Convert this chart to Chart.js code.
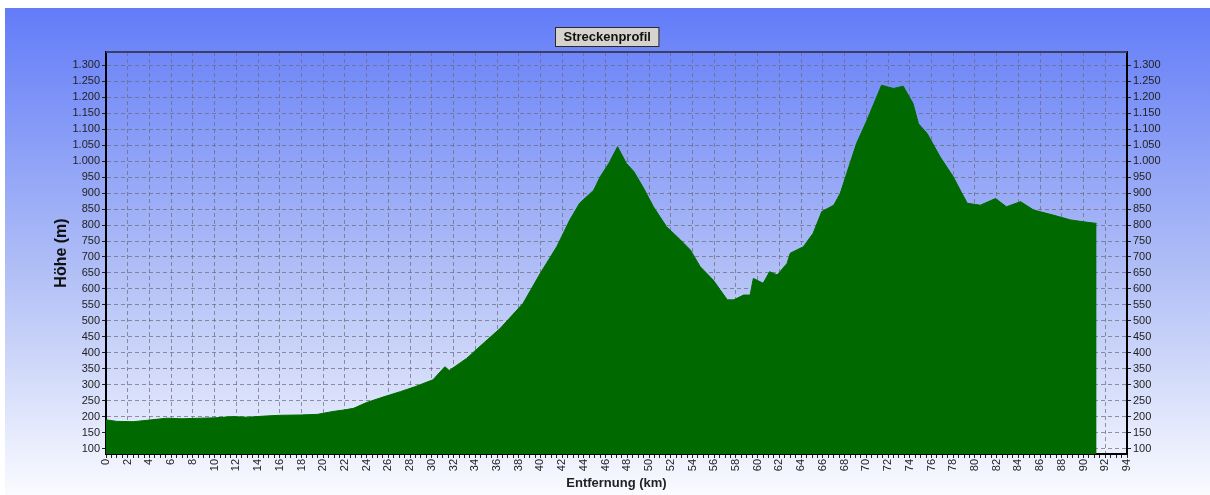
<!DOCTYPE html>
<html>
<head>
<meta charset="utf-8">
<script src="https://cdn.jsdelivr.net/npm/chart.js@4.4.1/dist/chart.umd.min.js"></script>
<style>
  html, body { margin: 0; padding: 0; background: #fff; }
  #wrap { position: relative; width: 1210px; height: 495px; }
</style>
</head>
<body>
<div id="wrap"><canvas id="profile" width="1210" height="495"></canvas></div>
<script>
// distance (km) and elevation (m)
const distanceKm = [
  0, 1, 2.5, 4, 5.6, 7, 8.7, 10, 11.7, 13, 14.8, 16, 17.9, 19.5, 20.9, 22, 22.8,
  24, 25.5, 27.1, 28.5, 30.1, 31.2, 31.6, 33.2, 35.1, 36.3, 38.4, 40.0, 41.5,
  42.7, 43.6, 44.9, 45.5, 46.3, 47.1, 47.9, 48.6, 49.5, 50.4, 51.6, 52.9, 53.8,
  54.7, 55.9, 57.2, 57.8, 58.7, 59.3, 59.6, 60.5, 61.1, 61.8, 62.7, 63.0, 64.2,
  65.1, 65.9, 67.0, 67.6, 68.2, 69.1, 70.0, 70.7, 71.4, 72.5, 73.4, 74.3, 74.8,
  75.6, 76.8, 78.0, 78.8, 79.3, 80.5, 81.9, 82.9, 84.2, 85.4, 87.2, 88.8, 90.0, 91.2
]
const elevationM = [
  191, 186, 185, 190, 196, 194, 196, 197, 201, 199, 203, 205, 206, 208, 217, 222, 227,
  245, 262, 279, 295, 316, 357, 345, 383, 441, 477, 555, 650, 732,
  816, 868, 909, 951, 993, 1045, 993, 967, 915, 857, 795, 753, 722,
  670, 628, 566, 566, 581, 581, 633, 618, 654, 644, 680, 712, 732,
  774, 842, 862, 899, 962, 1055, 1123, 1180, 1237, 1227, 1234, 1180, 1117,
  1086, 1013, 951, 899, 868, 862, 883, 857, 873, 847, 831, 816, 810, 805
]
const xTickLabels = [0, 2, 4, 6, 8, 10, 12, 14, 16, 18, 20, 22, 24, 26, 28, 30, 32, 34, 36, 38, 40,
  42, 44, 46, 48, 50, 52, 54, 56, 58, 60, 62, 64, 66, 68, 70, 72, 74, 76, 78, 80, 82, 84,
  86, 88, 90, 92, 94]
const yTickLabels = [100, 150, 200, 250, 300, 350, 400, 450, 500, 550, 600, 650, 700, 750,
  800, 850, 900, 950, 1000, 1050, 1100, 1150, 1200, 1250, 1300]

const chartTitle = 'Streckenprofil'
const yTitle = 'Höhe (m)'
const xTitle = 'Entfernung (km)'

const FONT = '"Liberation Sans", Arial, sans-serif'
const GRID = 'rgba(105,105,120,0.7)'

// German number format: 1300 -> "1.300"
const fmtHeight = v => {
  if (v >= 1000) return Math.floor(v / 1000) + '.' + String(v % 1000).padStart(3, '0')
  return String(v)
}

const points = distanceKm.map((d, i) => ({ x: d, y: elevationM[i] }))

// panel background, top border and title box
const decoration = {
  id: 'decoration',
  beforeDraw(chart) {
    const { ctx } = chart
    const g = ctx.createLinearGradient(0, 8, 0, 495)
    g.addColorStop(0, 'rgb(98,124,248)')
    g.addColorStop(0.55, 'rgb(178,192,246)')
    g.addColorStop(1, 'rgb(250,251,255)')
    ctx.save()
    ctx.fillStyle = g
    ctx.fillRect(5, 8, 1205, 487)
    ctx.restore()
  },
  afterDraw(chart) {
    const { ctx, chartArea } = chart
    ctx.save()
    ctx.strokeStyle = '#3a3f66'
    ctx.lineWidth = 2
    ctx.beginPath()
    ctx.moveTo(chartArea.left, chartArea.top)
    ctx.lineTo(chartArea.right, chartArea.top)
    ctx.stroke()

    // title box
    ctx.font = 'bold 13px ' + FONT
    const w = ctx.measureText(chartTitle).width + 16
    const cx = (chartArea.left + chartArea.right) / 2 - 10
    const bx = Math.round(cx - w / 2) + 0.5
    ctx.fillStyle = '#d6d3cc'
    ctx.fillRect(bx, 27.5, w, 19)
    ctx.strokeStyle = '#2a2a2a'
    ctx.lineWidth = 1
    ctx.strokeRect(bx, 27.5, w, 19)
    ctx.fillStyle = '#111'
    ctx.textAlign = 'center'
    ctx.textBaseline = 'middle'
    ctx.fillText(chartTitle, bx + w / 2, 37.5)
    ctx.restore()
  }
}

new Chart(document.getElementById('profile'), {
  type: 'line',
  data: {
    datasets: [{
      data: points,
      borderColor: '#006a00',
      backgroundColor: '#006a00',
      borderWidth: 1,
      pointRadius: 0,
      tension: 0,
      fill: 'start'
    }]
  },
  options: {
    responsive: false,
    animation: false,
    layout: { padding: { top: 52, left: 0, right: 0, bottom: 0 } },
    plugins: { legend: { display: false }, tooltip: { enabled: false } },
    scales: {
      x: {
        type: 'linear',
        min: 0,
        max: 94,
        afterFit: s => { s.height = 41 },
        grid: {
          color: c => (xTickLabels.includes(c.tick.value) ? GRID : 'rgba(0,0,0,0)'),
          tickColor: '#222',
          tickLength: 4,
          lineWidth: 1
        },
        border: { color: '#000', width: 2, dash: [4, 3] },
        ticks: {
          stepSize: 0.5,
          autoSkip: false,
          minRotation: 90,
          maxRotation: 90,
          padding: 1,
          color: '#222',
          font: { family: FONT, size: 11 },
          callback: v => (xTickLabels.includes(v) ? String(v) : '')
        },
        title: {
          display: true,
          text: xTitle,
          color: '#222',
          font: { family: FONT, size: 13, weight: 'bold' },
          padding: { top: 0, bottom: 4 }
        }
      },
      y: {
        type: 'linear',
        position: 'left',
        min: 84,
        max: 1341,
        afterFit: s => { s.width = 106 },
        afterBuildTicks: s => {
          const t = []
          for (let v = 100; v <= 1325; v += 25) t.push({ value: v })
          s.ticks = t
        },
        border: { color: '#000', width: 2, dash: [4, 3] },
        grid: {
          color: GRID,
          tickColor: '#222',
          tickLength: 4,
          lineWidth: 1
        },
        ticks: {
          padding: 2,
          color: '#222',
          font: { family: FONT, size: 11 },
          callback: v => (yTickLabels.includes(v) ? fmtHeight(v) : '')
        },
        title: {
          display: true,
          text: yTitle,
          color: '#111',
          font: { family: FONT, size: 16, weight: 'bold' },
          padding: { top: 52, bottom: 0 }
        }
      },
      y2: {
        type: 'linear',
        position: 'right',
        min: 84,
        max: 1341,
        afterFit: s => { s.width = 83 },
        afterBuildTicks: s => {
          s.ticks = yTickLabels.map(v => ({ value: v }))
        },
        border: { color: '#000', width: 2 },
        grid: { drawOnChartArea: false, tickColor: '#222', tickLength: 4 },
        ticks: {
          padding: 2,
          color: '#222',
          font: { family: FONT, size: 11 },
          callback: v => fmtHeight(v)
        }
      }
    }
  },
  plugins: [decoration]
})
</script>
</body>
</html>
